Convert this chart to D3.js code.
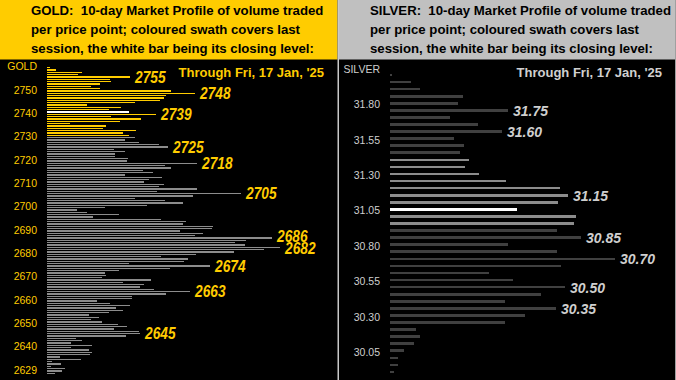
<!DOCTYPE html>
<html><head><meta charset="utf-8">
<script src="https://cdn.jsdelivr.net/npm/d3@7"></script>
<style>
html,body{margin:0;padding:0;background:#000;}
svg{display:block;}
text.title{white-space:pre;}
</style></head>
<body>
<svg id="c" width="676" height="380"></svg>
<script>
// ---------- DATA ----------
const goldPrices = d3.range(2759, 2627, -1);
const goldVolume = [3,9,35,31,83,63,64,53,44,53,124,148,119,117,113,88,40,74,62,82,
109,64,94,73,23,59,56,89,76,82,88,78,92,112,121,67,78,68,68,81,80,150,118,124,96,106,78,115,102,97,
117,112,150,110,194,146,88,118,136,100,58,30,40,72,46,114,139,136,166,165,133,156,148,225,199,188,198,233,217,187,
149,114,141,137,82,163,123,72,58,59,55,104,76,97,93,107,143,119,85,85,50,63,83,69,76,62,42,52,44,55,
71,80,67,92,93,79,29,35,24,45,24,42,45,43,13,34,5,14,4,18,15,8];
const goldSessionHigh = 2759, goldSessionLow = 2730, goldClose = 2740;
const goldLabels = [2755, 2748, 2739, 2725, 2718, 2705, 2686, 2682, 2674, 2663, 2645];
const goldTickValues = [2760, 2750, 2740, 2730, 2720, 2710, 2700, 2690, 2680, 2670, 2660, 2650, 2640, 2630];
const goldTickLabels = ["GOLD","2750","2740","2730","2720","2710","2700","2690","2680","2670","2660","2650","2640","2629"];

const silverPrices = d3.range(0, 43).map(i => +(32.00 - i*0.05).toFixed(2));
const silverVolume = [1.5,21,30,73,68,118,60,88,112,64,74,70,79,75,89,116,170,178,168,127,
186,184,167,191,118,167,225,171,99,123,175,151,115,166,135,115,26,30,24,14,8,8,4];
const silverSessionHigh = 31.40, silverSessionLow = 30.95, silverClose = 31.05;
const silverLabels = [31.75, 31.60, 31.15, 30.85, 30.70, 30.50, 30.35];
const silverTickValues = [32.05, 31.80, 31.55, 31.30, 31.05, 30.80, 30.55, 30.30, 30.05];
const silverTickLabels = ["SILVER","31.80","31.55","31.30","31.05","30.80","30.55","30.30","30.05"];

const goldTitle = ["GOLD:  10-day Market Profile of volume traded","per price point; coloured swath covers last","session, the white bar being its closing level:"];
const silverTitle = ["SILVER:  10-day Market Profile of volume traded","per price point; coloured swath covers last","session, the white bar being its closing level:"];
const dateText = "Through Fri, 17 Jan, '25";

// ---------- DRAW ----------
const svg = d3.select("#c");
svg.append("rect").attr("width",676).attr("height",380).attr("fill","#000");

const sans = "'Liberation Sans',Arial,sans-serif";

function panel(cfg){
  const g = svg.append("g");
  // header
  g.append("rect").attr("x",cfg.x0).attr("y",0).attr("width",cfg.w).attr("height",59.5).attr("fill",cfg.headBg);
  g.selectAll("text.title").data(cfg.title).join("text").attr("class","title")
    .attr("x",cfg.x0+31).attr("y",(d,i)=>15+i*19)
    .attr("font-family",sans).attr("font-weight","bold")
    .attr("font-size","13.2px").attr("fill","#000").text(d=>d);

  const y = d3.scaleLinear().domain(cfg.yDomain).range(cfg.yRange);
  const x = d3.scaleLinear().domain([0,100]).range([cfg.barX, cfg.barX+100]);

  const data = cfg.prices.map((p,i)=>({p, v:cfg.vol[i]}));
  g.selectAll("rect.bar").data(data).join("rect")
    .attr("x",x(0)).attr("y",d=>y(d.p)-cfg.barH/2)
    .attr("width",d=>x(d.v)-x(0)).attr("height",cfg.barH)
    .attr("shape-rendering","crispEdges")
    .attr("fill",d=>{
      if (Math.abs(d.p-cfg.close)<1e-6) return "#ffffff";
      if (d.p<=cfg.high+1e-6 && d.p>=cfg.low-1e-6) return cfg.swath;
      return cfg.base;
    });

  // value labels
  const byP = new Map(data.map(d=>[d.p.toFixed(2),d]));
  g.selectAll("text.val").data(cfg.labels).join("text")
    .attr("x",d=>x(byP.get(d.toFixed(2)).v)+5)
    .attr("y",(d,i)=>y(d)+(cfg.dy[i]||0))
    .attr("dy","0.36em")
    .attr("font-family",sans).attr("font-weight","bold").attr("font-style","italic")
    .attr("font-size",cfg.valSize).attr("fill",cfg.valColor)
    .attr("textLength",cfg.valLen).attr("lengthAdjust","spacingAndGlyphs")
    .text(d=>cfg.fmt(d));

  // axis
  const ax = d3.axisLeft(y).tickValues(cfg.tickValues)
    .tickFormat((d,i)=>cfg.tickLabels[i]).tickSize(0).tickPadding(0);
  const axg = g.append("g").attr("transform",`translate(${cfg.axisX},1.2)`).call(ax);
  axg.select(".domain").remove();
  axg.selectAll("text").attr("font-family",sans)
    .attr("font-size","10.5px").attr("fill",cfg.axisColor);

  // date
  g.append("text").attr("x",cfg.dateX).attr("y",77).attr("text-anchor","end")
    .attr("font-family",sans).attr("font-weight","bold")
    .attr("font-size","13px").attr("fill",cfg.dateColor).text(dateText);
}

panel({x0:0,w:337.5,headBg:"#ffcc00",title:goldTitle,
  yDomain:[2759,2628],yRange:[67.7,373.3],barX:47,barH:1.4,
  prices:goldPrices,vol:goldVolume,high:goldSessionHigh,low:goldSessionLow,close:goldClose,
  swath:"#ffcc00",base:"#8c8c8c",labels:goldLabels,valSize:"16px",valLen:30.5,valColor:"#ffcc00",fmt:d=>String(d),
  dy:[0,0,0,0,0,0,-1.5,1,0,0,0],
  tickValues:goldTickValues,tickLabels:goldTickLabels,axisX:37,axisColor:"#ffcc00",
  dateX:324,dateColor:"#ffcc00"});

panel({x0:339,w:337,headBg:"#c0c0c0",title:silverTitle,
  yDomain:[32.00,29.90],yRange:[75,372],barX:390,barH:2.6,
  prices:silverPrices,vol:silverVolume,high:silverSessionHigh,low:silverSessionLow,close:silverClose,
  swath:"#8c8c8c",base:"#404040",labels:silverLabels,valSize:"15.5px",valLen:35,valColor:"#cfcfcf",fmt:d=>d.toFixed(2),
  dy:[],
  tickValues:silverTickValues,tickLabels:silverTickLabels,axisX:380,axisColor:"#cfcfcf",
  dateX:662,dateColor:"#d0d0d0"});

// separators
svg.append("rect").attr("x",337.5).attr("y",0).attr("width",1.5).attr("height",380).attr("fill","#c8c8c8");
svg.append("rect").attr("x",675).attr("y",0).attr("width",1).attr("height",380).attr("fill","#a0a0a0");
</script>
</body></html>
